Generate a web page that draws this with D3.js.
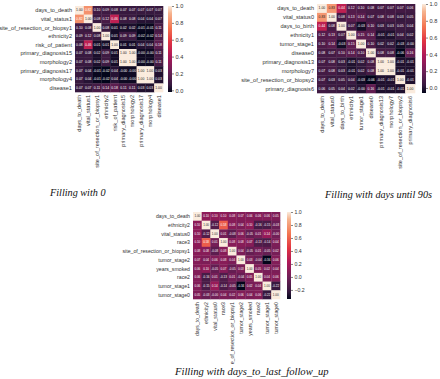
<!DOCTYPE html>
<html><head><meta charset="utf-8">
<script src="https://cdn.jsdelivr.net/npm/d3@7"></script>
<style>html,body{margin:0;padding:0;background:#fff;}svg{display:block;}</style>
</head><body>
<svg id="chart" width="440" height="379"></svg>
<script>
// ---------- DATA ----------
const labels1 = ["days_to_death","vital_status1","site_of_resection_or_biopsy1","ethnicity2","risk_of_patient","primary_diagnosis15","morphology2","primary_diagnosis17","morphology4","disease1"];
const values1 = [
 [1.00, 0.82, 0.10, 0.09, 0.08, 0.07, 0.07, 0.07, 0.07, 0.07],
 [0.82, 1.00, 0.08, 0.12, 0.46, 0.08, 0.08, 0.04, 0.04, 0.07],
 [0.10, 0.08, 1.00, 0.08, 0.01, 0.02, 0.02, -0.01, -0.01, 0.11],
 [0.09, 0.12, 0.08, 1.00, 0.01, 0.09, 0.09, -0.02, -0.02, 0.14],
 [0.08, 0.46, 0.01, 0.01, 1.00, 0.01, 0.01, 0.04, 0.04, 0.18],
 [0.07, 0.08, 0.02, 0.09, 0.01, 1.00, 1.00, -0.00, -0.00, 0.11],
 [0.07, 0.08, 0.02, 0.09, 0.01, 1.00, 1.00, -0.00, -0.00, 0.11],
 [0.07, 0.04, -0.01, -0.02, 0.04, -0.00, -0.00, 1.00, 1.00, 0.03],
 [0.07, 0.04, -0.01, -0.02, 0.04, -0.00, -0.00, 1.00, 1.00, 0.03],
 [0.07, 0.07, 0.11, 0.14, 0.18, 0.11, 0.11, 0.03, 0.03, 1.00]
];
const ticks1 = [0.0, 0.2, 0.4, 0.6, 0.8, 1.0];
const caption1 = "Filling with 0";

const labels2 = ["days_to_death","vital_status0","days_to_birth","ethnicity1","tumor_stage1","disease0","primary_diagnosis13","morphology7","site_of_resection_or_biopsy2","primary_diagnosis6"];
const values2 = [
 [1.00, 0.83, 0.44, 0.12, 0.10, 0.08, 0.07, 0.07, 0.07, 0.06],
 [0.83, 1.00, 0.08, 0.13, 0.14, 0.07, 0.08, 0.08, 0.03, 0.05],
 [0.44, 0.08, 1.00, 0.07, -0.03, 0.10, 0.03, 0.03, 0.05, 0.04],
 [0.12, 0.13, 0.07, 1.00, 0.15, 0.14, -0.01, -0.01, 0.04, 0.02],
 [0.10, 0.14, -0.03, 0.15, 1.00, 0.10, 0.02, 0.02, -0.03, -0.00],
 [0.08, 0.07, 0.10, 0.14, 0.10, 1.00, 0.08, 0.08, -0.06, 0.16],
 [0.07, 0.08, 0.03, -0.01, 0.02, 0.08, 1.00, 1.00, -0.01, -0.01],
 [0.07, 0.08, 0.03, -0.01, 0.02, 0.08, 1.00, 1.00, -0.01, -0.01],
 [0.07, 0.03, 0.05, 0.04, -0.03, -0.06, -0.01, -0.01, 1.00, -0.01],
 [0.06, 0.05, 0.04, 0.02, -0.00, 0.16, -0.01, -0.01, -0.01, 1.00]
];
const ticks2 = [0.0, 0.2, 0.4, 0.6, 0.8, 1.0];
const caption2 = "Filling with days until 90s";

const labels3 = ["days_to_death","ethnicity2","vital_status0","race3","site_of_resection_or_biopsy1","tumor_stage2","years_smoked","race2","tumor_stage1","tumor_stage0"];
const values3 = [
 [1.00, 0.10, 0.10, 0.10, 0.08, 0.07, 0.06, 0.06, 0.06, 0.05],
 [0.10, 1.00, -0.12, 0.58, 0.08, 0.04, 0.10, -0.16, -0.15, -0.03],
 [0.10, -0.12, 1.00, 0.01, -0.08, 0.06, -0.05, 0.01, 0.14, -0.00],
 [0.10, 0.58, 0.01, 1.00, 0.08, 0.08, 0.07, -0.13, -0.14, 0.04],
 [0.08, 0.08, -0.08, 0.08, 1.00, 0.04, -0.05, 0.01, -0.05, 0.02],
 [0.07, 0.04, 0.06, 0.08, 0.04, 1.00, 0.03, -0.04, -0.34, 0.06],
 [0.06, 0.10, -0.05, 0.07, -0.05, 0.03, 1.00, 0.05, 0.02, 0.04],
 [0.06, -0.16, 0.01, -0.13, 0.01, -0.04, 0.05, 1.00, 0.04, 0.06],
 [0.06, -0.15, 0.14, -0.14, -0.05, -0.34, 0.02, 0.04, 1.00, -0.22],
 [0.05, -0.03, -0.00, 0.04, 0.02, 0.06, 0.04, 0.06, -0.22, 1.00]
];
const ticks3 = [-0.2, 0.0, 0.2, 0.4, 0.6, 0.8, 1.0];
const caption3 = "Filling with days_to_last_follow_up";

// rocket colormap control points
const rocketT = [0, 0.083, 0.25, 0.417, 0.583, 0.75, 0.917, 1];
const rocketC = ["#03051a","#35193e","#701f57","#ad1759","#e13342","#f37651","#f6b48f","#faebdd"];

// ---------- DRAW ----------
const svg = d3.select("#chart");
svg.append("rect").attr("width",440).attr("height",379).attr("fill","#fff");
const rocket = d3.scaleLinear().domain(rocketT).range(rocketC).interpolate(d3.interpolateRgb).clamp(true);
const txtCol = "#333";
const fam = "Liberation Sans, Arial, sans-serif";

function lum(c){
  const r = d3.rgb(c);
  const f = v => { v/=255; return v<=0.03928 ? v/12.92 : Math.pow((v+0.055)/1.055,2.4); };
  return 0.2126*f(r.r)+0.7152*f(r.g)+0.0722*f(r.b);
}
function fmt2(v){ return ((v<0 || Object.is(v,-0)) ? "-" : "") + Math.abs(v).toFixed(2); }

let gid = 0;
function heatmap(labels, M, ticks, o){
  const id = gid++;
  const g = svg.append("g");
  const flat = M.flat();
  const vmin = d3.min(flat), vmax = d3.max(flat);
  const x = d3.scaleBand().domain(labels).range([o.x0, o.x1]);
  const y = d3.scaleBand().domain(labels).range([o.y0, o.y1]);
  const tnorm = d3.scaleLinear().domain([vmin, vmax]).range([0,1]);
  const color = v => rocket(tnorm(v));
  const cells = [];
  M.forEach((row,i)=>row.forEach((v,j)=>cells.push({r:labels[i], c:labels[j], v})));
  g.selectAll("rect.cell").data(cells).join("rect")
    .attr("x", d=>x(d.c)).attr("y", d=>y(d.r))
    .attr("width", x.bandwidth()+0.3).attr("height", y.bandwidth()+0.3)
    .attr("fill", d=>color(d.v));
  g.selectAll("text.ann").data(cells).join("text")
    .attr("x", d=>x(d.c)+x.bandwidth()/2).attr("y", d=>y(d.r)+y.bandwidth()/2)
    .attr("text-anchor","middle").attr("dominant-baseline","central")
    .attr("font-family", fam).attr("font-size", o.annSize)
    .attr("fill", d=> lum(color(d.v))>0.408 ? "#262626" : "#fff")
    .text(d=>fmt2(d.v));
  // row labels
  g.selectAll("text.rl").data(labels).join("text")
    .attr("x", o.x0-3).attr("y", d=>y(d)+y.bandwidth()/2)
    .attr("text-anchor","end").attr("dominant-baseline","central")
    .attr("font-family", fam).attr("font-size", o.labSize).attr("fill", txtCol)
    .text(d=>d);
  // col labels
  let cg = g.append("g");
  if (o.clipY){
    svg.append("clipPath").attr("id","clip"+id).append("rect")
      .attr("x",0).attr("y",0).attr("width",440).attr("height",o.clipY);
    cg.attr("clip-path","url(#clip"+id+")");
  }
  cg.selectAll("text").data(labels).join("text")
    .attr("transform", d=>`translate(${x(d)+x.bandwidth()/2},${o.y1+3}) rotate(-90)`)
    .attr("text-anchor","end").attr("dominant-baseline","central")
    .attr("font-family", fam).attr("font-size", o.labSize).attr("fill", txtCol)
    .text(d=>d);
  // colorbar
  const grad = svg.append("defs").append("linearGradient").attr("id","grad"+id)
    .attr("x1",0).attr("y1",1).attr("x2",0).attr("y2",0);
  rocketT.forEach((t,k)=>grad.append("stop").attr("offset",t).attr("stop-color",rocketC[k]));
  g.append("rect").attr("x",o.cx).attr("y",o.y0).attr("width",o.cw).attr("height",o.y1-o.y0)
    .attr("fill","url(#grad"+id+")");
  const cs = d3.scaleLinear().domain([vmin, vmax]).range([o.y1, o.y0]);
  const ax = g.append("g").attr("transform",`translate(${o.cx+o.cw},0)`)
    .call(d3.axisRight(cs).tickValues(ticks).tickSize(2).tickPadding(1.5)
      .tickFormat(d=> (d<0?"\u2212":"") + Math.abs(d).toFixed(1)));
  ax.select(".domain").remove();
  ax.selectAll("line").attr("stroke", txtCol).attr("stroke-width",0.6);
  ax.selectAll("text").attr("font-family", fam).attr("font-size", o.labSize).attr("fill", txtCol);
  // caption
  svg.append("text").attr("x", o.capX).attr("y", o.capY)
    .attr("font-family","Liberation Serif, Times New Roman, serif").attr("font-style","italic")
    .attr("font-size", o.capSize).attr("fill","#111")
    .text(o.caption);
}

heatmap(labels1, values1, ticks1, {x0:75, x1:163, y0:6, y1:92, cx:168, cw:4,
  annSize:3.4, labSize:5.6, caption:caption1, capX:50, capY:196, capSize:10.2});
heatmap(labels2, values2, ticks2, {x0:317, x1:415, y0:4, y1:93, cx:422, cw:4,
  annSize:3.4, labSize:5.6, caption:caption2, capX:325, capY:198, capSize:10.2});
heatmap(labels3, values3, ticks3, {x0:193, x1:280, y0:212, y1:299, cx:287, cw:4,
  annSize:3.0, labSize:5.2, clipY:364, caption:caption3, capX:175, capY:375, capSize:10.6});
</script>
</body></html>
